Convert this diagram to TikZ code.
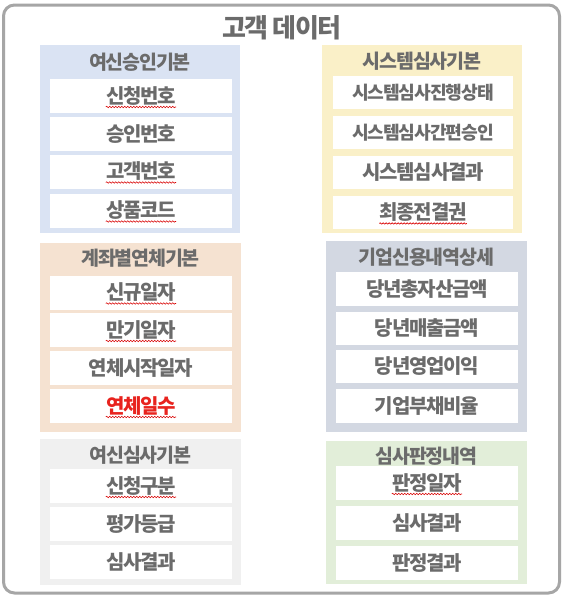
\documentclass[tikz,border=0pt]{standalone}
\usepackage{fontspec}
\setmainfont{Noto Sans CJK KR}[BoldFont={Noto Sans CJK KR Black}, LetterSpace=-6]
\usetikzlibrary{decorations.pathmorphing}
\definecolor{txtgray}{HTML}{6B6B6B}
\definecolor{framegray}{HTML}{A6A6A6}
\definecolor{cblue}{HTML}{DAE3F3}
\definecolor{cyellow}{HTML}{FAF0C8}
\definecolor{corange}{HTML}{F5E2D1}
\definecolor{cslate}{HTML}{D3D8E2}
\definecolor{clgray}{HTML}{F0F0F0}
\definecolor{cgreen}{HTML}{E2EED9}
\definecolor{cred}{HTML}{E8231E}
\begin{document}
\begin{tikzpicture}[x=1pt,y=-1pt,
  grpbox/.style={draw=none, inner sep=0, minimum width=201pt},
  itembox/.style={draw=none, fill=white, inner sep=0, minimum width=182pt, minimum height=34pt},
  itxt/.style={inner sep=0, text=txtgray, font=\fontsize{20}{22}\selectfont\bfseries},
  smalltxt/.style={itxt, font=\fontsize{18.2}{20}\selectfont\bfseries},
  hdr/.style={inner sep=0, text=txtgray, font=\fontsize{19.5}{21}\selectfont\bfseries},
  squig/.style={draw=red!85!black, line width=0.6pt, decorate,
    decoration={snake, segment length=3pt, amplitude=0.7pt}}]
\useasboundingbox (0,0) rectangle (564,598);
\fill[white] (0,0) rectangle (564,598);
% outer frame
\node[draw=framegray, line width=3pt, rounded corners=11pt, inner sep=0,
  minimum width=556pt, minimum height=588pt] (frame) at (281.5,299) {};
\node[inner sep=0, text=txtgray, font=\fontsize{26}{28}\selectfont\bfseries] (title) at (282,28) {고객 데이터};

% ---------- group 1: 여신승인기본
\node[grpbox, fill=cblue, minimum width=200pt, minimum height=188pt] (g1) at (140,139) {};
\node[hdr] (g1h) at (140,62) {여신승인기본};
\node[itembox] (a1) at (141,96) {};
\node[itxt] (a1t) at (a1) {신청번호};
\node[itembox] (a2) at (141,134) {};
\node[itxt] (a2t) at (a2) {승인번호};
\node[itembox] (a3) at (141,171.5) {};
\node[itxt] (a3t) at (a3) {고객번호};
\node[itembox] (a4) at (141,210.5) {};
\node[itxt] (a4t) at (a4) {상품코드};

% ---------- group 2: 시스템심사기본
\node[grpbox, fill=cyellow, minimum width=200pt, minimum height=188pt] (g2) at (422,139) {};
\node[hdr] (g2h) at (422,61) {시스템심사기본};
\node[itembox, minimum width=180pt, minimum height=33pt] (b1) at (423,92.5) {};
\node[smalltxt] (b1t) at (b1) {시스템심사진행상태};
\node[itembox, minimum width=180pt, minimum height=33pt] (b2) at (423,132.5) {};
\node[smalltxt] (b2t) at (b2) {시스템심사간편승인};
\node[itembox, minimum width=180pt, minimum height=33pt] (b3) at (423,172.5) {};
\node[itxt] (b3t) at (b3) {시스템심사결과};
\node[itembox, minimum width=180pt, minimum height=33pt] (b4) at (423,212.5) {};
\node[itxt] (b4t) at (b4) {최종전결권};

% ---------- group 3: 계좌별연체기본
\node[grpbox, fill=corange, minimum height=189pt] (g3) at (140.5,337.5) {};
\node[hdr] (g3h) at (140.5,258) {계좌별연체기본};
\node[itembox] (c1) at (141,292.5) {};
\node[itxt] (c1t) at (c1) {신규일자};
\node[itembox] (c2) at (141,330) {};
\node[itxt] (c2t) at (c2) {만기일자};
\node[itembox] (c3) at (141,368) {};
\node[itxt] (c3t) at (c3) {연체시작일자};
\node[itembox] (c4) at (141,406) {};
\node[itxt, text=cred] (c4t) at (c4) {연체일수};

% ---------- group 4: 기업신용내역상세
\node[grpbox, fill=cslate, minimum height=191pt] (g4) at (426.5,336.5) {};
\node[hdr] (g4h) at (426.5,257) {기업신용내역상세};
\node[itembox] (d1) at (427,289) {};
\node[itxt] (d1t) at (d1) {당년총자산금액};
\node[itembox, minimum height=33pt] (d2) at (427,328) {};
\node[itxt] (d2t) at (d2) {당년매출금액};
\node[itembox, minimum height=33pt] (d3) at (427,366.5) {};
\node[itxt] (d3t) at (d3) {당년영업이익};
\node[itembox] (d4) at (427,406) {};
\node[itxt] (d4t) at (d4) {기업부채비율};

% ---------- group 5: 여신심사기본
\node[grpbox, fill=clgray, minimum height=146pt] (g5) at (140.5,512) {};
\node[hdr] (g5h) at (140.5,455) {여신심사기본};
\node[itembox] (e1) at (141,486) {};
\node[itxt] (e1t) at (e1) {신청구분};
\node[itembox] (e2) at (141,524) {};
\node[itxt] (e2t) at (e2) {평가등급};
\node[itembox] (e3) at (141,562) {};
\node[itxt] (e3t) at (e3) {심사결과};

% ---------- group 6: 심사판정내역
\node[grpbox, fill=cgreen, minimum height=143pt] (g6) at (426.5,512.5) {};
\node[hdr] (g6h) at (426.5,456) {심사판정내역};
\node[itembox] (f1) at (427,483) {};
\node[itxt] (f1t) at (f1) {판정일자};
\node[itembox] (f2) at (427,523) {};
\node[itxt] (f2t) at (f2) {심사결과};
\node[itembox] (f3) at (427,563) {};
\node[itxt] (f3t) at (f3) {판정결과};

% spell-check underlines
\foreach \n in {a1t,a3t,a4t,b4t,c1t,c2t,c4t,e1t,f1t}
  \draw[squig] ([yshift=-3.5pt]\n.base west) -- ([yshift=-3.5pt]\n.base east);
\end{tikzpicture}
\end{document}
